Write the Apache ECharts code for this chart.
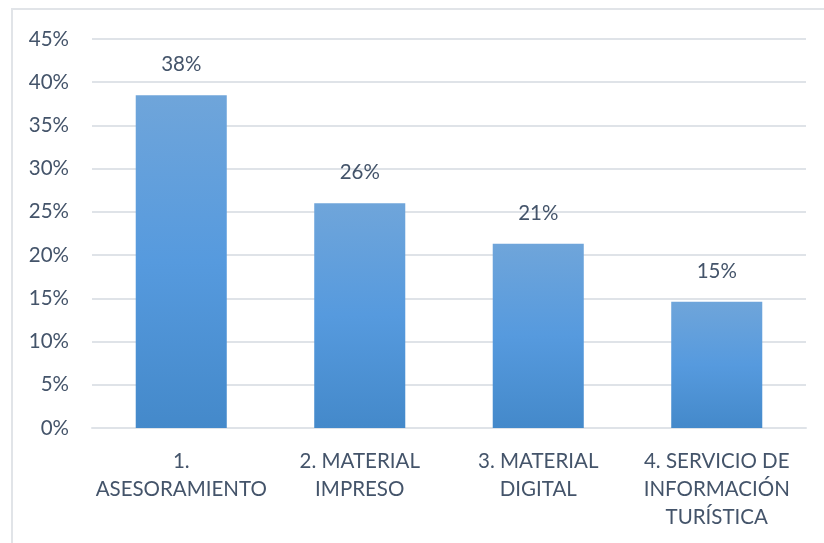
<!DOCTYPE html>
<html>
<head>
    <meta charset="UTF-8">
    <title>chart</title>
    <script src="https://cdn.jsdelivr.net/npm/echarts@6/dist/echarts.min.js"></script>
    <style>
        body, html {
            margin: 0;
            padding: 0;
            background: #fff;
        }
        #frame {
            position: absolute;
            left: 11px;
            top: 8px;
            width: 840px;
            height: 600px;
            border: 2px solid #e1e4e8;
            box-sizing: border-box;
        }
        #bar {
            position: absolute;
            left: 0;
            top: 0;
            width: 824px;
            height: 543px;
        }
    </style>
</head>
<body>
<div id="frame"></div>
<div id="bar"></div>
<script>
    var categories = ['1.\nASESORAMIENTO', '2. MATERIAL\nIMPRESO', '3. MATERIAL\nDIGITAL', '4. SERVICIO DE\nINFORMACIÓN\nTURÍSTICA'];
    var values = [38.5, 26.0, 21.3, 14.6];
    var labels = ['38%', '26%', '21%', '15%'];

    var textColor = '#44546a';
    var font = 'Lato, "Open Sans", sans-serif';

    var chart = echarts.init(document.getElementById('bar'), null, {renderer: 'canvas'});
    chart.setOption({
        animation: false,
        grid: {left: 92, right: 18, top: 39, bottom: 115},
        xAxis: {
            type: 'category',
            data: categories,
            axisLine: {show: true, lineStyle: {color: '#dfe3e8', width: 2}},
            axisTick: {show: false},
            axisLabel: {
                color: textColor, fontSize: 20.5, fontFamily: font,
                lineHeight: 28, margin: 19, interval: 0
            }
        },
        yAxis: {
            type: 'value',
            min: 0, max: 45, interval: 5,
            axisLine: {show: false},
            axisTick: {show: false},
            splitLine: {lineStyle: {color: '#dfe3e8', width: 2}},
            axisLabel: {
                color: textColor, fontSize: 20.5, fontFamily: font, margin: 23,
                formatter: '{value}%'
            }
        },
        series: [{
            type: 'bar',
            data: values,
            barWidth: '51%',
            itemStyle: {
                color: new echarts.graphic.LinearGradient(0, 0, 0, 1, [
                    {offset: 0, color: '#6fa5da'},
                    {offset: 0.5, color: '#569ade'},
                    {offset: 1, color: '#4489ca'}
                ])
            },
            label: {
                show: true,
                position: 'top',
                distance: 20,
                color: textColor, fontSize: 20.5, fontFamily: font,
                formatter: function (p) { return labels[p.dataIndex]; }
            }
        }]
    });
</script>
</body>
</html>
